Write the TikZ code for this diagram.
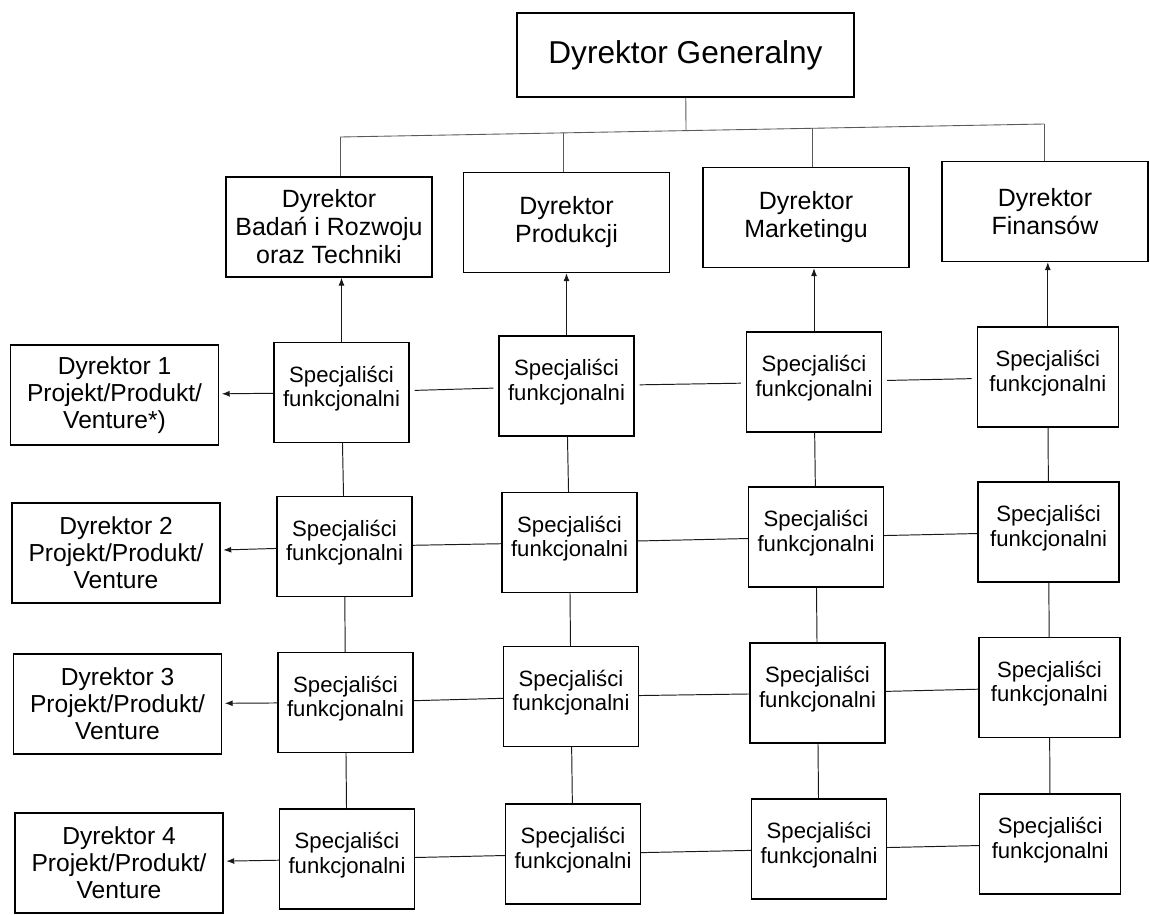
\documentclass[tikz,border=0pt]{standalone}
\usepackage{fontspec}
\setmainfont{Liberation Sans}
\usetikzlibrary{arrows.meta}

\begin{document}
\begin{tikzpicture}[x=0.02cm, y=-0.02cm,
  box/.style={draw=black, line width=0.8pt, inner sep=0pt, align=center, text=black},
  ceo/.style={box, minimum width=6.74cm, minimum height=1.68cm, font=\fontsize{18}{20}\selectfont},
  chief/.style={box, minimum width=4.12cm, minimum height=2cm, font=\fontsize{14.2}{15.9}\selectfont},
  proj/.style={box, minimum width=4.16cm, minimum height=2cm, font=\fontsize{14}{15.3}\selectfont},
  spec/.style={box, minimum width=2.7cm, minimum height=2cm, text depth=7pt,
               font=\fontsize{12.6}{13.8}\selectfont},
  wide/.style={minimum width=2.82cm},
  link/.style={line width=0.55pt, black!90},
  bus/.style={line width=0.5pt, black!65},
  tip/.style={-{Latex[length=4.5pt,width=3.4pt]}},
  gap/.style={shorten <=0.1cm, shorten >=0.1cm},
]
% page frame
\fill[white] (0,0) rectangle (1150,914);
\useasboundingbox (0,0) rectangle (1150,914);

% top management
\node[ceo]   (ceo)  at (685.5,55)   {Dyrektor Generalny};
\node[chief] (rd)   at (329,227)    {Dyrektor\\Badań i Rozwoju\\oraz Techniki};
\node[chief] (prod) at (566.5,222.5){Dyrektor\\Produkcji};
\node[chief] (mkt)  at (806,217.5)  {Dyrektor\\Marketingu};
\node[chief] (fin)  at (1045,211.5) {Dyrektor\\Finansów};

% project / product / venture managers
\node[proj] (p1) at (114.5,395) {Dyrektor 1\\Projekt/Produkt/\\Venture*)};
\node[proj] (p2) at (116,553)   {Dyrektor 2\\Projekt/Produkt/\\Venture};
\node[proj] (p3) at (117.5,704) {Dyrektor 3\\Projekt/Produkt/\\Venture};
\node[proj] (p4) at (119,863)   {Dyrektor 4\\Projekt/Produkt/\\Venture};

% functional specialists: s<row><column>
\foreach \r/\c/\x/\y in {
  1/1/341.5/392.5, 1/2/566.5/386,   1/3/814/382,
  2/1/344.5/546.5, 2/2/569.5/542.5, 2/3/816/537,
  3/1/345.5/702.5, 3/2/571/696.5,   3/3/817.5/693,
  4/1/347/859,     4/2/573/854,     4/3/819/849}
  \node[spec] (s\r\c) at (\x,\y) {Specjaliści\\funkcjonalni};
\foreach \r/\y in {1/377, 2/532, 3/687.5, 4/844}
  \node[spec,wide] (s\r4) at (1047+0.8*\r,\y) {Specjaliści\\funkcjonalni};

% distribution bus under the general director
\coordinate (bRD)  at (340,137);
\coordinate (bP)   at (563,132.9);
\coordinate (hub)  at (686,130.6);
\coordinate (bM)   at (812,128.3);
\coordinate (bF)   at (1044,124);
\draw[bus] (ceo) -- (hub);
\draw[bus] (bRD) -- (bF);
\draw[bus] (bRD) -- (bRD |- rd.north);
\draw[bus] (bP)  -- (bP |- prod.north);
\draw[bus] (bM)  -- (bM |- mkt.north);
\draw[bus] (bF)  -- (bF |- fin.north);

% reporting lines to the functional directors
\draw[link,tip] (s11.north) -- (s11.north |- rd.south);
\draw[link,tip] (s12.north) -- (s12.north |- prod.south);
\draw[link,tip] (s13.north) -- (s13.north |- mkt.south);
\draw[link,tip] (s14.north) -- (s14.north |- fin.south);

% columns
\foreach \c in {1,2,3,4} {
  \draw[link] (s1\c) -- (s2\c);
  \draw[link] (s2\c) -- (s3\c);
  \draw[link] (s3\c) -- (s4\c);
}

% rows
\draw[link,gap] (s11) -- (s12);
\draw[link,gap] (s12) -- (s13);
\draw[link,gap] (s13) -- (s14);
\foreach \r in {2,3,4} {
  \draw[link] (s\r1) -- (s\r2);
  \draw[link] (s\r2) -- (s\r3);
  \draw[link] (s\r3) -- (s\r4);
}

% reporting lines to the project managers
\foreach \r in {1,2,3,4}
  \draw[link,tip,shorten >=1.5pt] (s\r1) -- (p\r);
\end{tikzpicture}
\end{document}
